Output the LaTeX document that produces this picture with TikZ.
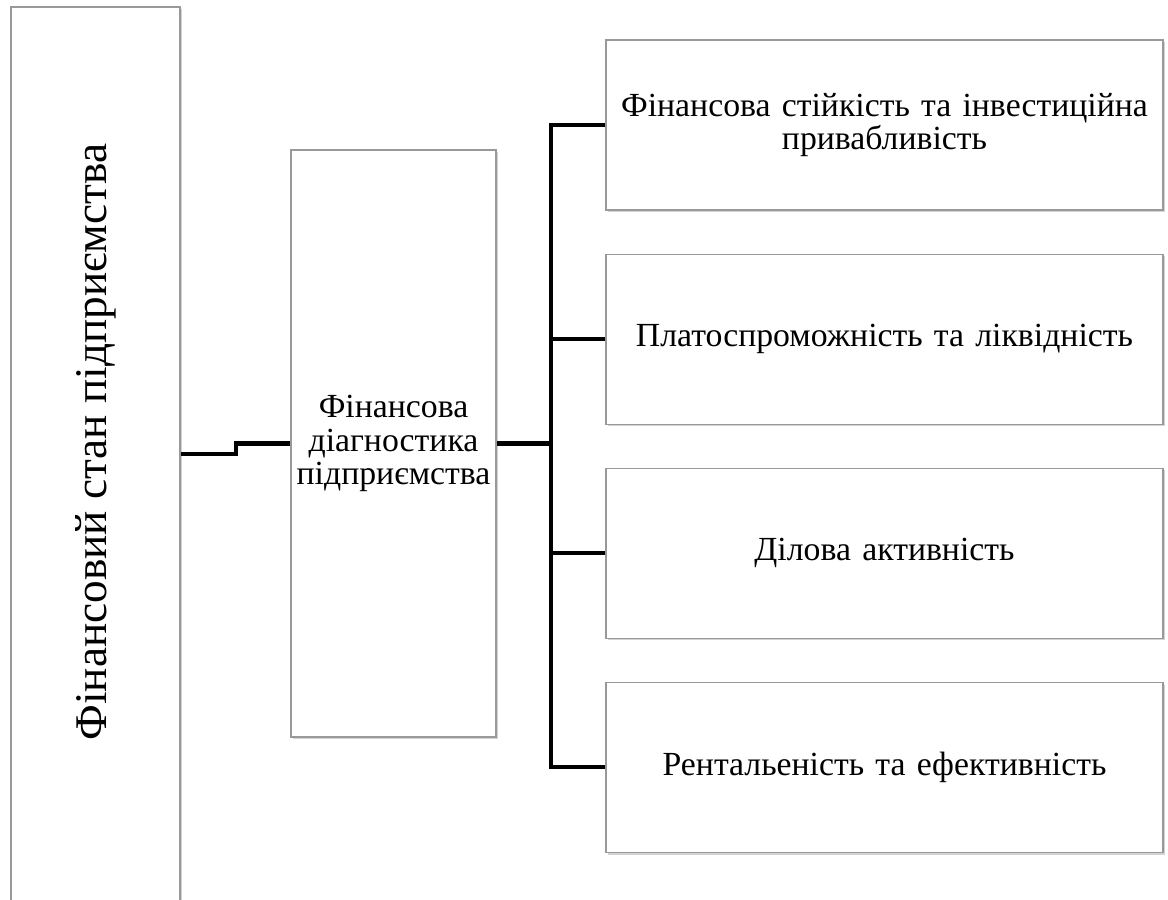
\documentclass[tikz,border=0pt]{standalone}
\usepackage{fontspec}
\setmainfont{Liberation Serif}
\usetikzlibrary{positioning, shadows}

\begin{document}
\begin{tikzpicture}[
    x=0.025cm, y=-0.025cm,
    node distance=1.075cm and 2.75cm,
    every node/.style={
        align=center,
        inner sep=0pt
    },
    box/.style={draw=black!40, line width=0.8pt, fill=white,
        drop shadow={opacity=0.35, shadow xshift=1.2pt, shadow yshift=-1.5pt}},
    side/.style={box, minimum width=169*0.025cm, minimum height=894*0.025cm},
    mid/.style={box, minimum width=205*0.025cm, minimum height=587*0.025cm,
        font=\fontsize{24}{24}\selectfont},
    item/.style={box, minimum width=557*0.025cm, minimum height=170*0.025cm,
        text width=545*0.025cm, font=\fontsize{24}{24}\selectfont},
    conn/.style={line width=2.9pt, draw=black}
]
\clip (0,0) rectangle (1168,899);

% Left column
\node[side] (state) at (95.5,454) {};
\node[rotate=90, font=\fontsize{32.2}{36}\selectfont] (statelabel) at (96,442)
    {Фінансовий стан підприємства};

% Diagnostics
\node[mid] (diag) at (393.5,443.5) {Фінансова\\ діагностика\\ підприємства};

% Right column
\node[item] (stab) at (884.5,125) {Фінансова стійкість та інвестиційна\\ привабливість};
\node[item] (solv) [below=of stab] {Платоспроможність та ліквідність};
\node[item] (busy) [below=of solv] {Ділова активність};
\node[item] (prof) [below=of busy] {Рентальеність та ефективність};

% Connectors
\coordinate (bus) at (551,443.5);
\draw[conn] (state.east) -- ++(55,0) |- (diag.west);
\draw[conn] (diag.east) -- (bus);
\foreach \n in {stab, solv, busy, prof}
    \draw[conn] (\n.west) -| (bus);

\end{tikzpicture}
\end{document}
